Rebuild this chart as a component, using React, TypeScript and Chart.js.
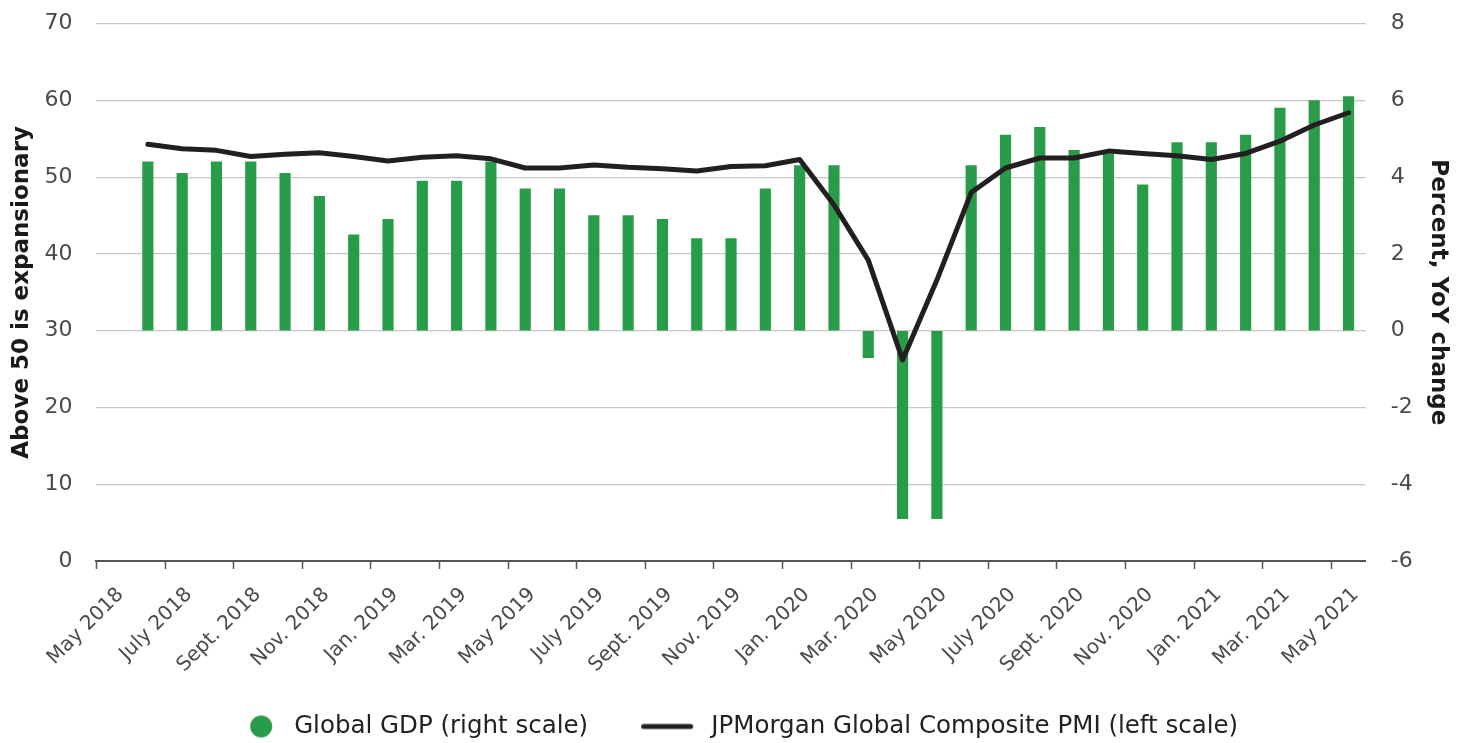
import React, { useEffect, useRef } from 'react';
import { Chart, registerables } from 'chart.js';

Chart.register(...registerables);

// ---- Data ----
const months = [
  'May 2018', 'June 2018', 'July 2018', 'Aug. 2018', 'Sept. 2018', 'Oct. 2018', 'Nov. 2018', 'Dec. 2018',
  'Jan. 2019', 'Feb. 2019', 'Mar. 2019', 'Apr. 2019', 'May 2019', 'June 2019', 'July 2019', 'Aug. 2019',
  'Sept. 2019', 'Oct. 2019', 'Nov. 2019', 'Dec. 2019',
  'Jan. 2020', 'Feb. 2020', 'Mar. 2020', 'Apr. 2020', 'May 2020', 'June 2020', 'July 2020', 'Aug. 2020',
  'Sept. 2020', 'Oct. 2020', 'Nov. 2020', 'Dec. 2020',
  'Jan. 2021', 'Feb. 2021', 'Mar. 2021', 'Apr. 2021', 'May 2021',
];

// Global GDP, percent YoY change (right scale); May 2018 has no value
const gdpGrowth = [
  null, 4.4, 4.1, 4.4, 4.4, 4.1, 3.5, 2.5, 2.9, 3.9, 3.9, 4.4,
  3.7, 3.7, 3.0, 3.0, 2.9, 2.4, 2.4, 3.7, 4.3, 4.3,
  -0.7, -4.9, -4.9, 4.3, 5.1, 5.3, 4.7, 4.6, 3.8, 4.9, 4.9, 5.1, 5.8, 6.0, 6.1,
];

// JPMorgan Global Composite PMI (left scale)
const compositePmi = [
  null, 54.3, 53.7, 53.5, 52.7, 53.0, 53.2, 52.7, 52.1, 52.6, 52.8, 52.4,
  51.2, 51.2, 51.6, 51.3, 51.1, 50.8, 51.4, 51.5, 52.3, 46.4,
  39.2, 26.2, 36.6, 48.0, 51.2, 52.5, 52.5, 53.4, 53.1, 52.8, 52.3, 53.1, 54.7, 56.8, 58.4,
];

const gdpLabel = 'Global GDP (right scale)';
const pmiLabel = 'JPMorgan Global Composite PMI (left scale)';
const leftTitle = 'Above 50 is expansionary';
const rightTitle = 'Percent, YoY change';

// ---- Styles ----
const GREEN = '#289c48';
const INK = '#231f20';
const AXIS = '#555555';
const GRID = '#c8c8c8';
const TICK_TEXT = '#4a4a4a';
const CLEAR = 'rgba(0,0,0,0)';
const FONT = "'DejaVu Sans', sans-serif";
const LEGEND_SLOT = 101;

function legendCircle(): HTMLCanvasElement {
  const c = document.createElement('canvas');
  c.width = LEGEND_SLOT;
  c.height = 26;
  const g = c.getContext('2d')!;
  g.fillStyle = GREEN;
  g.beginPath();
  g.arc(80.25, 13, 11, 0, Math.PI * 2);
  g.fill();
  return c;
}

function legendLine(): HTMLCanvasElement {
  const c = document.createElement('canvas');
  c.width = LEGEND_SLOT;
  c.height = 26;
  const g = c.getContext('2d')!;
  g.strokeStyle = INK;
  g.lineWidth = 5;
  g.lineCap = 'round';
  g.beginPath();
  g.moveTo(45.5, 13);
  g.lineTo(92.5, 13);
  g.stroke();
  return c;
}

export default function App() {
  const ref = useRef<HTMLCanvasElement>(null);

  useEffect(() => {
    document.body.style.margin = '0';
    document.body.style.overflow = 'hidden';
    const canvas = ref.current;
    if (!canvas) return;
    const circleImg = legendCircle();
    const lineImg = legendLine();

    const chart = new Chart(canvas, {
      type: 'bar',
      data: {
        labels: months,
        datasets: [
          {
            type: 'bar',
            label: gdpLabel,
            data: gdpGrowth as any,
            yAxisID: 'y1',
            backgroundColor: GREEN,
            barThickness: 10.5,
            order: 2,
          },
          {
            type: 'line',
            label: pmiLabel,
            data: compositePmi as any,
            yAxisID: 'y',
            borderColor: INK,
            backgroundColor: INK,
            borderWidth: 5,
            pointRadius: 0,
            tension: 0,
            borderJoinStyle: 'round',
            borderCapStyle: 'round',
            order: 1,
          } as any,
        ],
      },
      options: {
        animation: false,
        responsive: false,
        layout: { padding: { left: 0, right: 46, top: 23.7, bottom: 0 } },
        plugins: {
          tooltip: { enabled: false },
          legend: {
            position: 'bottom',
            maxHeight: 38.75,
            labels: {
              usePointStyle: true,
              pointStyleWidth: LEGEND_SLOT,
              boxHeight: 24,
              padding: 10,
              color: '#222222',
              font: { family: FONT, size: 24.5 },
              generateLabels: (ch: any) => {
                const items = (Chart.defaults.plugins.legend.labels as any).generateLabels(ch);
                items.forEach((it: any) => {
                  it.pointStyle = it.datasetIndex === 0 ? circleImg : lineImg;
                });
                return items.sort((a: any, b: any) => a.datasetIndex - b.datasetIndex);
              },
            },
          },
        },
        scales: {
          x: {
            type: 'category',
            offset: true,
            grid: {
              offset: true,
              drawOnChartArea: false,
              drawTicks: true,
              tickLength: 8,
              tickWidth: 1.5,
              tickColor: (c: any) => (c.index !== undefined && c.index % 2 === 0 ? AXIS : CLEAR),
            },
            border: { display: true, color: AXIS, width: 2 },
            ticks: {
              autoSkip: false,
              maxRotation: 45,
              minRotation: 45,
              labelOffset: 7,
              padding: 14,
              color: TICK_TEXT,
              font: { family: FONT, size: 20 },
              callback: (_v: any, i: number) => (i % 2 === 0 ? months[i] : ''),
            },
            afterFit: (s: any) => {
              s.height = 143.25;
            },
          },
          y: {
            position: 'left',
            min: 0,
            max: 70,
            ticks: { stepSize: 10, padding: 0, color: TICK_TEXT, font: { family: FONT, size: 22 } },
            grid: {
              drawTicks: true,
              tickLength: 24,
              tickColor: CLEAR,
              lineWidth: 1.2,
              color: (c: any) => (c.tick && c.tick.value === 0 ? CLEAR : GRID),
            },
            border: { display: false },
            title: {
              display: true,
              text: leftTitle,
              color: '#1a1a1a',
              font: { family: FONT, size: 23, weight: 'bold' },
              padding: { top: 8.7, bottom: 0 },
            },
            afterFit: (s: any) => {
              s.width = 96.4;
            },
          },
          y1: {
            position: 'right',
            min: -6,
            max: 8,
            ticks: { stepSize: 2, padding: 0, color: TICK_TEXT, font: { family: FONT, size: 22 } },
            grid: { drawOnChartArea: false, drawTicks: true, tickLength: 25, tickColor: CLEAR },
            border: { display: false },
            title: {
              display: true,
              text: rightTitle,
              color: '#1a1a1a',
              font: { family: FONT, size: 23, weight: 'bold' },
              padding: { top: -32.8, bottom: 0 },
            },
            afterFit: (s: any) => {
              s.width = 53.3;
            },
          },
        },
      } as any,
    });

    return () => chart.destroy();
  }, []);

  return (
    <div style={{ width: 1465, height: 743 }}>
      <canvas ref={ref} width={1465} height={743} style={{ display: 'block' }} />
    </div>
  );
}
